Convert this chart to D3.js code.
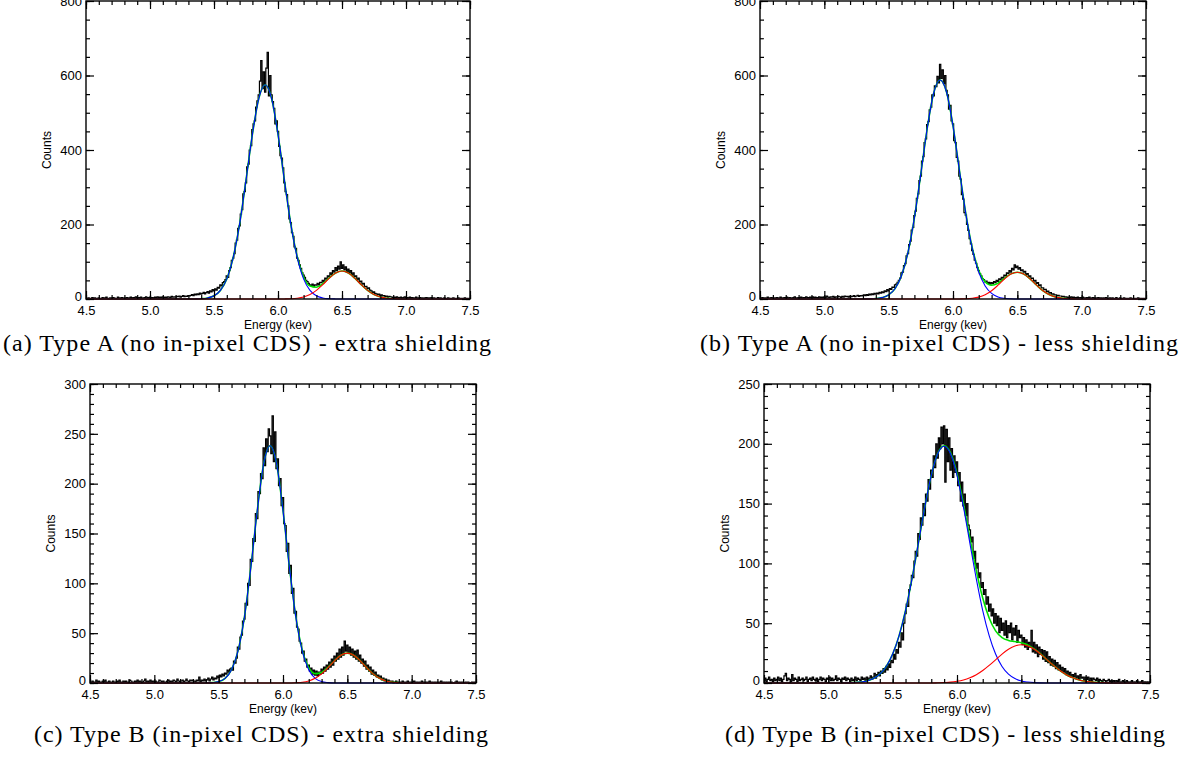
<!DOCTYPE html>
<html>
<head>
<meta charset="utf-8">
<script src="https://cdn.jsdelivr.net/npm/d3@7"></script>
<style>
  html, body { margin: 0; padding: 0; background: #fff; }
  svg text { font-family: "Liberation Sans", Arial, sans-serif; fill: #000; }
  svg text.caption { font-family: "Liberation Serif", "Times New Roman", serif; }
</style>
</head>
<body>
<svg id="chart" width="1186" height="765"></svg>
<script>
// ============================================
// Fe-55 spectra, four panels: histogram + two gaussian fits + their sum
// ============================================

// histogram bins: 4.50 .. 7.50 keV, 0.01 keV wide (301 bins)
const binStart = 4.5;
const binStep = 0.01;

// fit curves sampled every 0.05 keV: 4.50 .. 7.50 (61 points)
const fitStart = 4.5;
const fitStep = 0.05;

const countsA = [
  // 4.50 - 5.30
  2,1,3,2,1,4,2,3,1,2, 3,2,1,4,2,3,5,2,1,3, 2,4,3,1,2,5,3,2,4,2, 3,1,4,2,3,5,2,4,3,6,
  2,4,3,5,2,3,4,6,3,4, 5,3,4,2,5,4,6,3,5,4, 6,4,5,3,6,5,4,7,5,6, 5,7,6,8,5,7,9,6,8,7, 9,
  // 5.31 - 5.59
  8,10,12,9,13,11,14,12,16,13,15,18,14,17,20,16,22,19,25,22,27,24,31,29,38,35,44,47,52,
  // 5.60 - 5.89
  62,58,76,84,104,110,122,150,158,190,196,228,240,282,288,312,355,362,400,412,
  455,470,478,515,532,548,585,640,565,610,
  // 5.90 - 6.09
  555,620,662,545,600,548,530,512,470,478,450,410,385,378,352,312,288,280,250,215,
  // 6.10 - 6.49
  205,178,168,140,136,110,104,92,82,70,64,58,50,47,42,38,36,40,33,38,
  37,42,38,45,44,50,47,56,53,62,60,70,66,76,72,84,76,88,80,100,
  // 6.50 - 6.90
  82,92,78,86,72,80,70,76,64,70,60,62,52,56,46,48,40,42,33,34,
  28,30,24,22,18,19,15,14,12,13,10,11,8,9,7,8,5,7,6,5,4,
  // 6.91 - 7.50
  5,3,6,4,3,5,2,4,6,3, 4,2,5,3,4,2,3,5,2,3, 4,2,3,1,3,4,2,3,2,4,
  1,3,2,2,4,1,3,2,1,3, 2,1,3,2,2,1,3,2,1,2, 3,1,2,2,1,3,1,2,1,2
];
const countsB = [
  // 4.50 - 5.30
  3,2,4,1,3,2,5,2,3,4, 2,3,1,4,3,2,5,3,2,4, 3,5,2,4,3,2,4,6,3,2, 4,3,5,2,4,3,6,4,3,5,
  4,6,3,5,4,3,6,4,5,3, 6,4,8,5,4,6,5,7,4,6, 5,7,6,4,7,5,8,6,7,5, 8,6,7,9,6,8,10,7,9,8, 10,
  // 5.31 - 5.59
  11,9,12,10,13,11,14,12,15,13,16,14,18,16,19,17,22,20,25,22,28,26,32,31,38,40,45,50,56,
  // 5.60 - 5.89
  70,72,90,95,116,122,146,155,185,192,224,236,270,282,318,330,370,382,420,430,
  468,476,508,515,548,545,572,570,598,580,
  // 5.90 - 6.09
  630,592,615,578,600,560,548,510,520,478,470,425,420,380,370,330,322,280,268,232,
  // 6.10 - 6.49
  225,200,184,162,148,130,120,104,96,84,76,68,62,55,52,46,48,42,45,40,
  44,41,47,44,50,47,54,52,58,56,64,62,70,68,76,72,82,78,92,84,
  // 6.50 - 6.90
  88,80,84,76,78,72,74,66,68,60,62,55,56,48,50,42,44,36,38,30,
  30,25,26,20,21,16,17,13,14,11,11,9,10,8,8,6,7,5,6,4,5,
  // 6.91 - 7.50
  4,6,3,5,4,3,5,2,4,3, 5,3,2,4,3,5,2,3,4,2, 3,2,4,2,3,1,3,2,4,2,
  2,3,1,3,2,2,4,1,2,3, 1,2,3,1,2,2,1,3,2,1, 2,1,2,3,1,2,1,2,1,2
];
const countsC = [
  // 4.50 - 5.30
  1,0,2,1,0,3,1,2,0,1, 2,1,3,0,1,2,1,0,2,1, 0,2,1,3,1,0,2,1,2,0, 1,3,2,1,0,2,1,3,1,2,
  0,1,2,4,1,2,0,3,1,2, 1,2,0,1,3,2,1,2,0,1, 2,3,1,2,1,3,2,1,4,2, 1,2,3,1,2,4,2,1,3,2, 3,
  // 5.31 - 5.59
  2,1,3,2,6,1,3,2,4,2,3,5,2,4,6,3,5,4,7,5,8,6,9,7,10,9,13,11,14,
  // 5.60 - 5.89
  15,13,22,20,25,36,34,46,48,62,64,80,78,100,98,124,122,145,142,170,
  165,192,190,210,205,236,218,245,232,255,
  // 5.90 - 6.09
  248,230,268,222,252,215,225,198,205,178,186,160,158,132,140,110,118,90,95,70,
  // 6.10 - 6.49
  72,56,54,42,40,30,32,22,24,16,18,12,15,9,13,8,12,7,11,9,
  14,10,16,12,18,14,21,16,24,18,27,22,30,24,34,26,36,28,42,32,
  // 6.50 - 6.90
  38,30,36,28,34,26,32,24,33,22,28,20,24,17,22,14,18,12,16,9,
  13,8,11,6,8,5,7,3,5,2,4,1,3,2,1,2,0,1,2,0,1,
  // 6.91 - 7.50
  1,0,2,1,0,1,2,0,1,0, 1,2,0,1,0,1,0,2,1,0, 1,0,1,2,0,1,0,1,0,1,
  0,1,2,0,1,0,1,0,1,0, 1,0,0,1,2,0,1,0,1,0, 0,1,0,1,0,0,1,0,1,0
];
const countsD = [
  // 4.50 - 5.30
  2,4,1,3,5,2,3,1,4,2, 3,5,2,4,1,3,6,8,2,4, 3,1,7,2,4,3,1,5,2,3, 4,2,3,5,1,3,4,2,5,3,
  2,4,1,3,5,2,4,3,1,4, 3,5,2,4,2,3,6,2,4,3, 1,4,3,5,2,4,3,1,4,2, 3,5,2,4,3,2,5,3,4,2, 5,
  // 5.31 - 5.59
  3,4,6,3,5,8,4,7,9,6,10,8,12,9,14,11,16,13,19,17,24,20,28,25,34,30,42,36,50,
  // 5.60 - 5.89
  58,66,64,78,82,90,88,102,110,106,125,120,138,132,150,140,158,152,170,162,
  178,172,190,180,200,188,205,196,214,200,
  // 5.90 - 6.09
  215,168,212,185,205,178,196,172,190,176,185,165,176,152,168,148,158,140,150,132,
  // 6.10 - 6.49
  128,118,122,104,110,96,100,88,92,80,84,74,78,66,72,60,66,56,62,50,
  58,48,56,42,54,44,50,40,52,38,48,42,50,36,46,40,48,34,44,38,
  // 6.50 - 6.90
  40,32,38,30,36,28,34,30,44,26,34,25,32,22,30,24,28,20,27,18,
  26,17,22,15,20,14,19,12,17,11,15,10,13,9,12,7,10,6,9,5,7,
  // 6.91 - 7.50
  5,8,4,6,3,7,4,5,2,5, 3,5,2,4,1,4,3,2,4,1, 3,2,1,3,2,0,2,3,1,2,
  1,2,0,2,1,3,0,1,2,1, 0,2,1,0,1,2,0,1,0,2, 1,0,1,2,0,1,0,1,0,1
];

// Mn K-alpha fit (blue) and K-beta fit (red)
const blueA = [
  0,0,0,0,0,0,0,0,0,0, 0,0,0,0,0,0,0,
  0.2,0.8,2.8,8.6,23,54,112,201,319,442,538,575,538,442,319,201,112,54,23,8.6,2.8,0.8,0.2,
  0,0,0,0,0,0,0,0,0,0, 0,0,0,0,0,0,0,0,0,0, 0
];
const redA = [
  0,0,0,0,0,0,0,0,0,0, 0,0,0,0,0,0,0,0,0,0, 0,0,0,0,0,0,0,0,0,0, 0,
  0.2,0.7,2.0,5.2,11.8,23.0,38.5,55.8,69.7,75,69.7,55.8,38.5,23.0,11.8,5.2,2.0,0.7,0.2,
  0,0,0,0,0,0,0,0,0,0, 0
];
const blueB = [
  0,0,0,0,0,0,0,0,0,0, 0,0,0,0,0,0,0,
  0.3,1.2,3.9,11,28,63,125,218,336,459,553,588,555,465,345,228,135,72,35,15,5.5,1.8,0.5,
  0,0,0,0,0,0,0,0,0,0, 0,0,0,0,0,0,0,0,0,0, 0
];
const redB = [
  0,0,0,0,0,0,0,0,0,0, 0,0,0,0,0,0,0,0,0,0, 0,0,0,0,0,0,0,0,0,0, 0,
  0.2,0.6,1.9,5.0,11.3,22.0,37.0,53.6,66.9,72,66.9,53.6,37.0,22.0,11.3,5.0,1.9,0.6,0.2,
  0,0,0,0,0,0,0,0,0,0, 0
];
const blueC = [
  0,0,0,0,0,0,0,0,0,0, 0,0,0,0,0,0,0,0,0,
  0.4,1.4,4.7,13.4,32,66,116,173,220,238,220,173,116,66,32,13.4,4.7,1.4,0.4,
  0,0,0,0,0,0,0,0,0,0, 0,0,0,0,0,0,0,0,0,0, 0,0,0
];
const redC = [
  0,0,0,0,0,0,0,0,0,0, 0,0,0,0,0,0,0,0,0,0, 0,0,0,0,0,0,0,0,0,0, 0,0,
  0.3,0.8,2.1,4.7,9.2,15.4,22.3,27.9,30,27.9,22.3,15.4,9.2,4.7,2.1,0.8,0.3,
  0,0,0,0,0,0,0,0,0,0, 0,0
];
const blueD = [
  0,0,0,0,0,0,0,0,0,0, 0,0,0,
  0.1,0.3,0.8,1.7,3.7,7.4,13.8,24.2,39.6,60.6,87.1,117,147.3,173.6,191.7,198,
  191.7,173.6,147.3,117,87.1,60.6,39.6,24.2,13.8,7.4,3.7,1.7,0.8,0.3,0.1,
  0,0,0,0,0,0,0,0,0,0, 0,0,0,0,0,0,0
];
const redD = [
  0,0,0,0,0,0,0,0,0,0, 0,0,0,0,0,0,0,0,0,0, 0,0,0,0,0,0,0,
  0.2,0.4,0.7,1.4,2.5,4.3,6.9,10.4,14.7,19.4,24.2,28.2,31.0,32,
  31.0,28.2,24.2,19.4,14.7,10.4,6.9,4.3,2.5,1.4,0.7,0.4,0.2,
  0,0,0,0,0,0,0
];

// axis ticks
const xMajorTicks = [4.5, 5.0, 5.5, 6.0, 6.5, 7.0, 7.5];
const xTickLabels = ['4.5', '5.0', '5.5', '6.0', '6.5', '7.0', '7.5'];
const xMinorTicks = d3.range(45, 76).map(v => v / 10);

const captions = [
  '(a) Type A (no in-pixel CDS) - extra shielding',
  '(b) Type A (no in-pixel CDS) - less shielding',
  '(c) Type B (in-pixel CDS) - extra shielding',
  '(d) Type B (in-pixel CDS) - less shielding'
];

// panel layout
const panels = [
  { left: 86,  top: 1,   width: 384, height: 298, yMax: 800, yMajor: 200, yMinor: 50,
    counts: countsA, blue: blueA, red: redA, caption: captions[0], capX: 3,   capY: 351, capW: 488 },
  { left: 760, top: 1,   width: 386, height: 298, yMax: 800, yMajor: 200, yMinor: 50,
    counts: countsB, blue: blueB, red: redB, caption: captions[1], capX: 700, capY: 351, capW: 478 },
  { left: 90,  top: 384, width: 386, height: 299, yMax: 300, yMajor: 50, yMinor: 10,
    counts: countsC, blue: blueC, red: redC, caption: captions[2], capX: 34,  capY: 742, capW: 454 },
  { left: 764, top: 384, width: 386, height: 299, yMax: 250, yMajor: 50, yMinor: 10,
    counts: countsD, blue: blueD, red: redD, caption: captions[3], capX: 725, capY: 742, capW: 440 }
];

const svg = d3.select('#chart');

panels.forEach(p => {
  const x = d3.scaleLinear().domain([4.5, 7.5]).range([0, p.width]);
  const y = d3.scaleLinear().domain([0, p.yMax]).range([p.height, 0]);

  const g = svg.append('g').attr('transform', `translate(${p.left},${p.top})`);

  // histogram
  const hist = d3.line()
    .x((d, i) => x(binStart + i * binStep))
    .y(d => y(d))
    .curve(d3.curveStep);

  g.append('path')
    .datum(p.counts)
    .attr('d', hist)
    .attr('fill', 'none')
    .attr('stroke', '#000')
    .attr('stroke-width', 1.2);

  // fits: sum (green) under the two components
  const fit = d3.line()
    .x((d, i) => x(fitStart + i * fitStep))
    .y(d => y(d))
    .curve(d3.curveMonotoneX);

  const total = p.blue.map((v, i) => v + p.red[i]);

  g.append('path').datum(total).attr('d', fit)
    .attr('fill', 'none').attr('stroke', '#00e000').attr('stroke-width', 1.6);
  g.append('path').datum(p.blue).attr('d', fit)
    .attr('fill', 'none').attr('stroke', '#0000ff').attr('stroke-width', 1.1);
  g.append('path').datum(p.red).attr('d', fit)
    .attr('fill', 'none').attr('stroke', '#ff0000').attr('stroke-width', 1.1);

  // axes, ticks pointing inward on all four sides
  const yMajorTicks = d3.range(0, p.yMax + 1, p.yMajor);
  const yMinorTicks = d3.range(0, p.yMax + 1, p.yMinor);

  const axes = [
    { ax: d3.axisBottom(x), tr: `translate(0,${p.height})`, major: xMajorTicks, minor: xMinorTicks, labels: true },
    { ax: d3.axisTop(x),    tr: 'translate(0,0)',           major: xMajorTicks, minor: xMinorTicks, labels: false },
    { ax: d3.axisLeft(y),   tr: 'translate(0,0)',           major: yMajorTicks, minor: yMinorTicks, labels: true },
    { ax: d3.axisRight(y),  tr: `translate(${p.width},0)`,  major: yMajorTicks, minor: yMinorTicks, labels: false }
  ];

  axes.forEach(a => {
    const isX = a.major === xMajorTicks;
    const minorG = g.append('g').attr('transform', a.tr)
      .call(a.ax.tickValues(a.minor).tickSize(-4).tickFormat(''));
    minorG.select('.domain').remove();

    const majorAx = a.ax.tickValues(a.major).tickSize(-8)
      .tickPadding(isX ? 7 : 4)
      .tickFormat(a.labels ? (d => isX ? xTickLabels[xMajorTicks.indexOf(d)] : d3.format('d')(d)) : '');
    const majorG = g.append('g').attr('transform', a.tr).call(majorAx);
    majorG.select('.domain').remove();
    majorG.selectAll('text').attr('font-size', 13).style('font-family', '"Liberation Sans", Arial, sans-serif');
    // the zero count label sits a little above its tick
    if (!isX && a.labels) {
      majorG.selectAll('text').filter(d => d === 0).attr('y', -3);
    }
  });

  g.selectAll('.tick line').attr('stroke', '#000').attr('stroke-width', 1.2);

  g.append('rect')
    .attr('width', p.width).attr('height', p.height)
    .attr('fill', 'none').attr('stroke', '#000').attr('stroke-width', 1.4);

  // axis titles
  g.append('text')
    .attr('x', p.width / 2).attr('y', p.height + 30)
    .attr('text-anchor', 'middle').attr('font-size', 12)
    .text('Energy (kev)');

  g.append('text')
    .attr('transform', `translate(-35,${p.height / 2}) rotate(-90)`)
    .attr('text-anchor', 'middle').attr('font-size', 12)
    .text('Counts');

  // sub-figure caption
  svg.append('text')
    .attr('class', 'caption')
    .attr('x', p.capX).attr('y', p.capY)
    .attr('font-size', 24)
    .attr('textLength', p.capW)
    .attr('lengthAdjust', 'spacing')
    .text(p.caption);
});
</script>
</body>
</html>
